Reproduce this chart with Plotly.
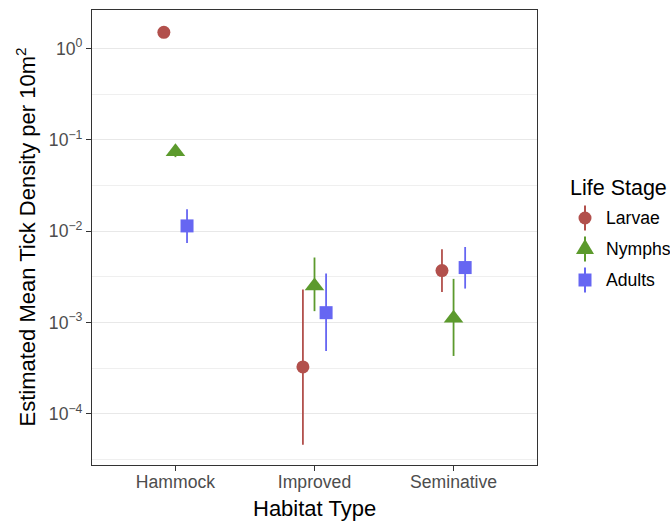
import plotly.graph_objects as go

# ---- data ----
habitats = ["Hammock", "Improved", "Seminative"]
stages = ["Larvae", "Nymphs", "Adults"]

larvae_est = [1.50, 3.26e-4, 3.70e-3]
larvae_lo = [1.40, 4.6e-5, 2.16e-3]
larvae_hi = [1.62, 2.29e-3, 6.33e-3]

nymphs_est = [0.0737, 2.50e-3, 1.11e-3]
nymphs_lo = [0.0645, 1.33e-3, 4.3e-4]
nymphs_hi = [0.082, 5.14e-3, 3.0e-3]

adults_est = [0.0114, 1.28e-3, 3.99e-3]
adults_lo = [0.0074, 4.87e-4, 2.35e-3]
adults_hi = [0.0174, 3.43e-3, 6.7e-3]

y_tickvals = [1, 0.1, 0.01, 0.001, 0.0001]
y_ticktext = ["10<sup>0</sup>", "10<sup>\u22121</sup>", "10<sup>\u22122</sup>",
              "10<sup>\u22123</sup>", "10<sup>\u22124</sup>"]
y_minorvals = [10 ** -0.5, 10 ** -1.5, 10 ** -2.5, 10 ** -3.5, 10 ** -4.5]

# ---- styles ----
colors = ["#B2504C", "#5C9A2D", "#6666F2"]
symbols = ["circle", "triangle-up", "square"]
sizes = [13, 17, 13]
dodge = 0.25
FONT = "Liberation Sans, Arial, sans-serif"

W, H = 670, 522
ML, MR, MT, MB = 92, 133, 10, 57
PW, PH = W - ML - MR, H - MT - MB


def px(x):
    return (x - ML) / PW


def py(y):
    return (H - MB - y) / PH


series = [
    (larvae_est, larvae_lo, larvae_hi),
    (nymphs_est, nymphs_lo, nymphs_hi),
    (adults_est, adults_lo, adults_hi),
]

fig = go.Figure()
for i, (name, (est, lo, hi)) in enumerate(zip(stages, series)):
    off = (i - 1) * dodge / 3
    xs = [j + 1 + off for j in range(len(habitats))]
    fig.add_trace(go.Scatter(
        x=xs, y=est, mode="markers", name=name, showlegend=False,
        marker=dict(color=colors[i], symbol=symbols[i], size=sizes[i], line=dict(width=0)),
        error_y=dict(type="data", symmetric=False,
                     array=[h - e for h, e in zip(hi, est)],
                     arrayminus=[e - l for e, l in zip(est, lo)],
                     width=0, thickness=1.8, color=colors[i]),
    ))

# ---- hand-drawn legend (ggplot-style pointrange keys) ----
shapes = []
annotations = []
leg_x_title, leg_y_title = 568, 188
key_x, text_x = 585, 604
key_ys = [218, 249, 280]
annotations.append(dict(text="Life Stage", x=px(leg_x_title), y=py(leg_y_title),
                        xref="paper", yref="paper", xanchor="left", yanchor="middle",
                        showarrow=False, font=dict(size=21.5, color="black")))
for i, name in enumerate(stages):
    ky = key_ys[i]
    c = colors[i]
    shapes.append(dict(type="line", xref="paper", yref="paper",
                       x0=px(key_x), x1=px(key_x), y0=py(ky - 12.5), y1=py(ky + 12.5),
                       line=dict(color=c, width=2)))
    if symbols[i] == "circle":
        r = 6.5
        shapes.append(dict(type="circle", xref="paper", yref="paper",
                           x0=px(key_x - r), x1=px(key_x + r), y0=py(ky + r), y1=py(ky - r),
                           fillcolor=c, line=dict(width=0)))
    elif symbols[i] == "square":
        r = 6.5
        shapes.append(dict(type="rect", xref="paper", yref="paper",
                           x0=px(key_x - r), x1=px(key_x + r), y0=py(ky + r), y1=py(ky - r),
                           fillcolor=c, line=dict(width=0)))
    else:
        hw, top, bot = 9.0, 10.0, 5.0
        path = "M {:.5f} {:.5f} L {:.5f} {:.5f} L {:.5f} {:.5f} Z".format(
            px(key_x - hw), py(ky + bot), px(key_x + hw), py(ky + bot), px(key_x), py(ky - top))
        shapes.append(dict(type="path", xref="paper", yref="paper", path=path,
                           fillcolor=c, line=dict(width=0)))
    annotations.append(dict(text=name, x=px(text_x), y=py(ky), xref="paper", yref="paper",
                            xanchor="left", yanchor="middle", showarrow=False,
                            font=dict(size=17.6, color="black")))

# axis titles
annotations.append(dict(text="Habitat Type", x=0.5, y=py(508), xref="paper", yref="paper",
                        xanchor="center", yanchor="middle", showarrow=False,
                        font=dict(size=22, color="black")))
annotations.append(dict(text="Estimated Mean Tick Density per 10m<sup>2</sup>",
                        x=px(25), y=0.5, xref="paper", yref="paper", textangle=-90,
                        xanchor="center", yanchor="middle", showarrow=False,
                        font=dict(size=22, color="black")))

fig.update_layout(
    width=W, height=H,
    margin=dict(l=ML, r=MR, t=MT, b=MB),
    plot_bgcolor="white", paper_bgcolor="white",
    font=dict(family=FONT, color="black"),
    showlegend=False,
    shapes=shapes, annotations=annotations,
    xaxis=dict(
        range=[0.4, 3.6], tickvals=[1, 2, 3], ticktext=habitats,
        showgrid=False, zeroline=False, automargin=False,
        ticks="outside", ticklen=5, tickcolor="#333333", tickwidth=1,
        showline=True, linecolor="#333333", linewidth=1, mirror=True,
        tickfont=dict(size=17.6, color="#4D4D4D"), ticklabelstandoff=-4,
    ),
    yaxis=dict(
        type="log", range=[-4.56, 0.42],
        tickvals=y_tickvals, ticktext=y_ticktext,
        showgrid=True, gridcolor="#E8E8E8", gridwidth=1.2, zeroline=False, automargin=False,
        minor=dict(tickvals=y_minorvals, showgrid=True, gridcolor="#EFEFEF", gridwidth=0.8, ticks=""),
        ticks="outside", ticklen=5, tickcolor="#333333", tickwidth=1,
        showline=True, linecolor="#333333", linewidth=1, mirror=True,
        tickfont=dict(size=17.6, color="#4D4D4D"),
    ),
)

fig.write_html("out.html", config={"displayModeBar": False},
               post_script="document.body.style.margin='0';")
